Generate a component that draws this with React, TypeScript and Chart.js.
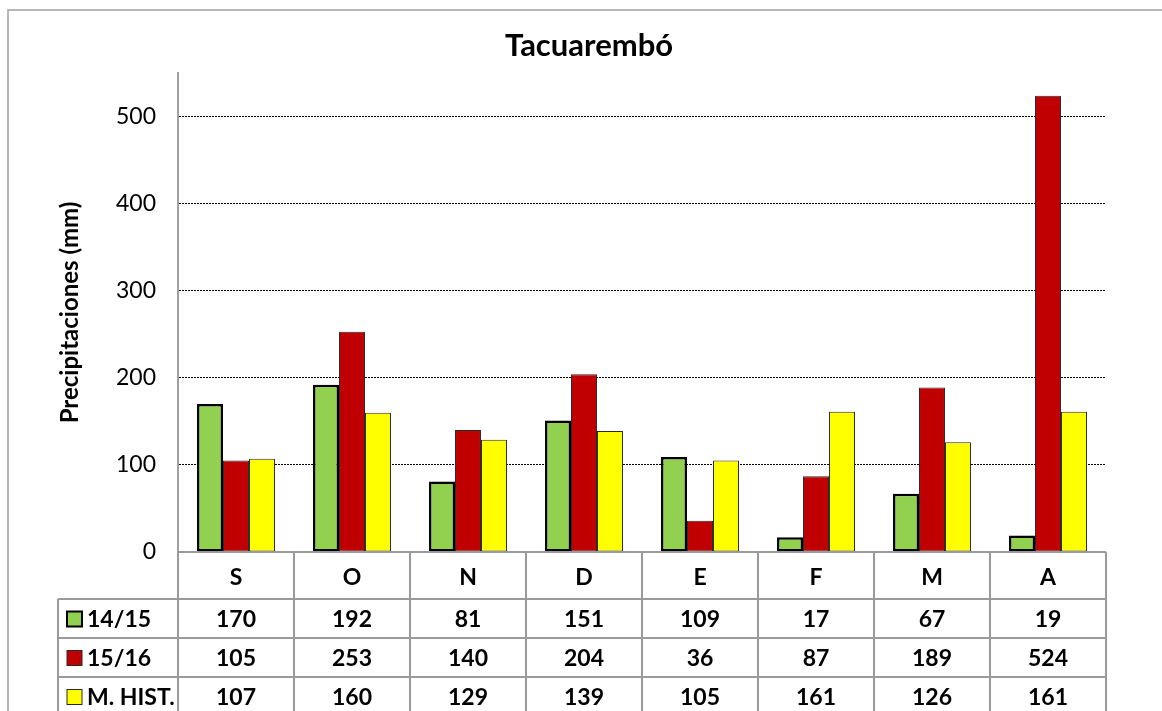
import React, { useEffect, useRef } from "react";
import { Chart, registerables } from "chart.js";

Chart.register(...registerables);

const chartTitle = "Tacuarembó";
const yAxisTitle = "Precipitaciones (mm)";
const categories = ["S", "O", "N", "D", "E", "F", "M", "A"];
const seriesNames = ["14/15", "15/16", "M. HIST."];
const values1415 = [170, 192, 81, 151, 109, 17, 67, 19];
const values1516 = [105, 253, 140, 204, 36, 87, 189, 524];
const valuesHist = [107, 160, 129, 139, 105, 161, 126, 161];
const yTicks = [0, 100, 200, 300, 400, 500];

const seriesValues = [values1415, values1516, valuesHist];
const seriesColors = ["#92D050", "#C00000", "#FFFF00"];
const seriesBorders = ["#000000", "#2a2a2a", "#2a2a2a"];
const seriesBorderWidths = [2.5, 1, 1];

const FONT = "Lato, 'Open Sans', sans-serif";

const tablePlugin = {
  id: "dataTable",
  afterDraw(chart: any) {
    const ctx = chart.ctx as CanvasRenderingContext2D;
    const area = chart.chartArea;
    const xs = chart.scales.x;
    const n = categories.length;
    const cw = (area.right - area.left) / n;
    const top = area.bottom;
    const headerH = 47;
    const rowH = 39;
    const legendLeft = 58;
    const tableBottom = top + headerH + rowH * seriesNames.length;

    ctx.save();
    // outer frame
    ctx.strokeStyle = "#a0a0a0";
    ctx.lineWidth = 1.5;
    ctx.strokeRect(8, 10, 1300, 900);

    // title
    ctx.fillStyle = "#000";
    ctx.font = `bold 31px ${FONT}`;
    ctx.textAlign = "center";
    ctx.textBaseline = "alphabetic";
    ctx.fillText(chartTitle, 589, 56);

    // table lines
    ctx.strokeStyle = "#9a9a9a";
    ctx.lineWidth = 2;
    ctx.beginPath();
    ctx.moveTo(area.left, top);
    ctx.lineTo(area.right, top);
    for (let r = 0; r <= seriesNames.length; r++) {
      const y = top + headerH + r * rowH;
      ctx.moveTo(legendLeft, y);
      ctx.lineTo(area.right, y);
    }
    for (let i = 0; i <= n; i++) {
      const x = area.left + i * cw;
      ctx.moveTo(x, top);
      ctx.lineTo(x, tableBottom);
    }
    ctx.moveTo(legendLeft, top + headerH);
    ctx.lineTo(legendLeft, tableBottom);
    ctx.stroke();

    // header
    ctx.fillStyle = "#000";
    ctx.font = `bold 23px ${FONT}`;
    ctx.textAlign = "center";
    ctx.textBaseline = "middle";
    categories.forEach((c, i) => {
      const x = xs.getPixelForValue(i);
      ctx.fillText(c, x, top + headerH / 2 + 2);
    });

    // rows
    seriesNames.forEach((name, r) => {
      const cy = top + headerH + r * rowH + rowH / 2 + 1;
      // legend key
      ctx.fillStyle = seriesColors[r];
      ctx.fillRect(67, cy - 8, 15, 15);
      ctx.strokeStyle = seriesBorders[r];
      ctx.lineWidth = r === 0 ? 2 : 1;
      ctx.strokeRect(67, cy - 8, 15, 15);
      ctx.fillStyle = "#000";
      ctx.textAlign = "left";
      ctx.fillText(name, 87, cy);
      ctx.textAlign = "center";
      seriesValues[r].forEach((v, i) => {
        ctx.fillText(String(v), xs.getPixelForValue(i), cy);
      });
    });
    ctx.restore();
  },
};

export default function App() {
  const canvasRef = useRef<HTMLCanvasElement | null>(null);

  useEffect(() => {
    if (!canvasRef.current) return;
    const chart = new Chart(canvasRef.current, {
      type: "bar",
      data: {
        labels: categories,
        datasets: seriesNames.map((name, i) => ({
          label: name,
          data: seriesValues[i],
          backgroundColor: seriesColors[i],
          borderColor: seriesBorders[i],
          borderWidth: seriesBorderWidths[i],
          borderSkipped: false,
          categoryPercentage: 0.672,
          barPercentage: 1,
        })),
      },
      options: {
        animation: false,
        responsive: true,
        maintainAspectRatio: false,
        layout: { padding: { left: 0, top: 73, right: 56, bottom: 159 } },
        plugins: {
          legend: { display: false },
          tooltip: { enabled: false },
          title: { display: false },
        },
        scales: {
          x: { display: false },
          y: {
            min: 0,
            max: 550,
            afterBuildTicks: (s: any) => {
              s.ticks = yTicks.map((v) => ({ value: v }));
            },
            afterFit: (s: any) => {
              s.width = 178;
            },
            ticks: {
              font: { family: FONT, size: 23 },
              color: "#000",
              padding: 22,
            },
            grid: {
              drawTicks: false,
              color: (c: any) =>
                c.tick && c.tick.value === 0 ? "rgba(0,0,0,0)" : "#000",
              lineWidth: 1,
            },
            border: { display: true, color: "#a0a0a0", width: 2, dash: [2, 1] },
            title: {
              display: true,
              text: yAxisTitle,
              font: { family: FONT, size: 24, weight: "bold" },
              color: "#000",
              padding: { top: 56, bottom: 0 },
            },
          },
        },
      },
      plugins: [tablePlugin],
    });
    return () => chart.destroy();
  }, []);

  return (
    <div style={{ position: "fixed", left: 0, top: 0, width: 1162, height: 711, background: "#fff" }}>
      <canvas ref={canvasRef} />
    </div>
  );
}
